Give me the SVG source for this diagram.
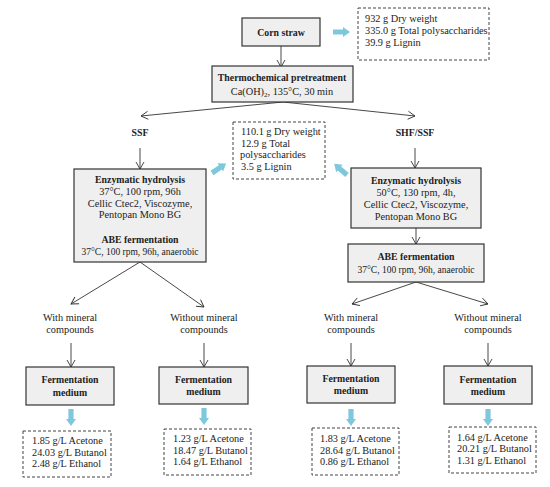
<svg xmlns="http://www.w3.org/2000/svg" width="550" height="487" viewBox="0 0 550 487">
<style>
text{font-family:"Liberation Serif","Times New Roman",serif;font-size:10.3px;fill:#222}
.b{font-weight:bold;font-size:9.8px}
.c{text-anchor:middle}
.s{font-size:9.5px}
.box{fill:#efefef;stroke:#333;stroke-width:1.2}
.dash{fill:#fff;stroke:#444;stroke-width:1;stroke-dasharray:3,2}
.ln{stroke:#333;stroke-width:0.9;fill:none;marker-end:url(#ah)}
.blue{fill:#7ec8dd}
</style>
<defs>
<marker id="ah" markerWidth="10" markerHeight="10" refX="8" refY="5" orient="auto" markerUnits="userSpaceOnUse">
<path d="M1,1 L8,5 L1,9" fill="none" stroke="#333" stroke-width="0.9"/>
</marker>
<path id="barrow" d="M0,-2.6 L10,-2.6 L10,-5 L17,0 L10,5 L10,2.6 L0,2.6 Z"/>
</defs>
<rect width="550" height="487" fill="#fff"/>

<g id="connectors">
<path class="ln" d="M281,46 L281,67"/>
<path class="ln" d="M283,102 L141,116"/>
<path class="ln" d="M283,102 L415,116"/>
<path class="ln" d="M140,148 L140,169"/>
<path class="ln" d="M415,148 L415,168"/>
<path class="ln" d="M416,228 L416,244"/>
<path class="ln" d="M140,262 L71,304"/>
<path class="ln" d="M140,262 L204,307"/>
<path class="ln" d="M416,282 L352,304"/>
<path class="ln" d="M416,282 L488,304"/>
<path class="ln" d="M71,343 L71,367"/>
<path class="ln" d="M204,343 L204,367"/>
<path class="ln" d="M351,343 L351,366"/>
<path class="ln" d="M488,343 L488,366"/>
<g class="blue">
<use href="#barrow" transform="translate(333,32)"/>
<use href="#barrow" transform="translate(212,173) rotate(-34)"/>
<use href="#barrow" transform="translate(347,175) rotate(-139)"/>
<use href="#barrow" transform="translate(71,409) rotate(90)"/>
<use href="#barrow" transform="translate(204,408) rotate(90)"/>
<use href="#barrow" transform="translate(351,409) rotate(90)"/>
<use href="#barrow" transform="translate(488,409) rotate(90)"/>
</g>
</g>

<g id="corn">
<rect class="box" x="242" y="18" width="78" height="28"/>
<text class="b c" x="281" y="35.5">Corn straw</text>
</g>
<g id="rawcomp">
<rect class="dash" x="358" y="8" width="131" height="52"/>
<text x="365" y="22">932 g Dry weight</text>
<text x="365" y="34">335.0 g Total polysaccharides</text>
<text x="365" y="45.5">39.9 g Lignin</text>
</g>
<g id="pretreat">
<rect class="box" x="212" y="66" width="141" height="36"/>
<text class="b c" x="282" y="81">Thermochemical pretreatment</text>
<text class="c" x="282" y="95">Ca(OH)<tspan font-size="7" dy="2">2</tspan><tspan dy="-2">, 135°C, 30 min</tspan></text>
</g>
<g id="ssf">
<text class="b c" x="140" y="136">SSF</text>
</g>
<g id="shf">
<text class="b c" x="415" y="136">SHF/SSF</text>
</g>
<g id="midcomp">
<rect class="dash" x="233" y="122" width="92" height="57"/>
<text x="241" y="135">110.1 g Dry weight</text>
<text x="241" y="146.5">12.9 g Total</text>
<text x="240" y="158">polysaccharides</text>
<text x="241" y="170">3.5 g Lignin</text>
</g>
<g id="enzL">
<rect class="box" x="74" y="169" width="132" height="93"/>
<text class="b c" x="140" y="183">Enzymatic hydrolysis</text>
<text class="c" x="140" y="194.5">37°C, 100 rpm, 96h</text>
<text class="c" x="140" y="206.5">Cellic Ctec2, Viscozyme,</text>
<text class="c" x="140" y="218">Pentopan Mono BG</text>
<text class="b c" x="140" y="243">ABE fermentation</text>
<text class="c s" x="140" y="255">37°C, 100 rpm, 96h, anaerobic</text>
</g>
<g id="enzR">
<rect class="box" x="351" y="168" width="130" height="60"/>
<text class="b c" x="416" y="184">Enzymatic hydrolysis</text>
<text class="c" x="416" y="195.5">50°C, 130 rpm, 4h,</text>
<text class="c" x="416" y="208">Cellic Ctec2, Viscozyme,</text>
<text class="c" x="416" y="220">Pentopan Mono BG</text>
</g>
<g id="abeR">
<rect class="box" x="348" y="244" width="136" height="38"/>
<text class="b c" x="416" y="260">ABE fermentation</text>
<text class="c s" x="416" y="272.5">37°C, 100 rpm, 96h, anaerobic</text>
</g>
<g id="labels">
<text class="c" x="70" y="321">With mineral</text>
<text class="c" x="70" y="333">compounds</text>
<text class="c" x="204" y="321">Without mineral</text>
<text class="c" x="204" y="333">compounds</text>
<text class="c" x="351" y="321">With mineral</text>
<text class="c" x="351" y="333">compounds</text>
<text class="c" x="488" y="321">Without mineral</text>
<text class="c" x="488" y="333">compounds</text>
</g>
<g id="fm1">
<rect class="box" x="26" y="367" width="88" height="38"/>
<text class="b c" x="70" y="383">Fermentation</text>
<text class="b c" x="70" y="395.5">medium</text>
</g>
<g id="fm2">
<rect class="box" x="159" y="367" width="89" height="37"/>
<text class="b c" x="203.5" y="383">Fermentation</text>
<text class="b c" x="203.5" y="395">medium</text>
</g>
<g id="fm3">
<rect class="box" x="307" y="366" width="88" height="37"/>
<text class="b c" x="351" y="382">Fermentation</text>
<text class="b c" x="351" y="394">medium</text>
</g>
<g id="fm4">
<rect class="box" x="444" y="366" width="88" height="38"/>
<text class="b c" x="488" y="382.5">Fermentation</text>
<text class="b c" x="488" y="394.5">medium</text>
</g>
<g id="r1">
<rect class="dash" x="23" y="431" width="88" height="46"/>
<text x="32" y="444">1.85 g/L Acetone</text>
<text x="32" y="455.5">24.03 g/L Butanol</text>
<text x="32" y="467">2.48 g/L Ethanol</text>
</g>
<g id="r2">
<rect class="dash" x="164" y="429" width="87" height="46"/>
<text x="173" y="442">1.23 g/L Acetone</text>
<text x="173" y="453.5">18.47 g/L Butanol</text>
<text x="173" y="465">1.64 g/L Ethanol</text>
</g>
<g id="r3">
<rect class="dash" x="312" y="428" width="87" height="47"/>
<text x="320" y="442">1.83 g/L Acetone</text>
<text x="320" y="453.5">28.64 g/L Butanol</text>
<text x="320" y="465">0.86 g/L Ethanol</text>
</g>
<g id="r4">
<rect class="dash" x="449" y="427" width="87" height="46"/>
<text x="457" y="440.5">1.64 g/L Acetone</text>
<text x="457" y="452">20.21 g/L Butanol</text>
<text x="457" y="463.5">1.31 g/L Ethanol</text>
</g>
</svg>
